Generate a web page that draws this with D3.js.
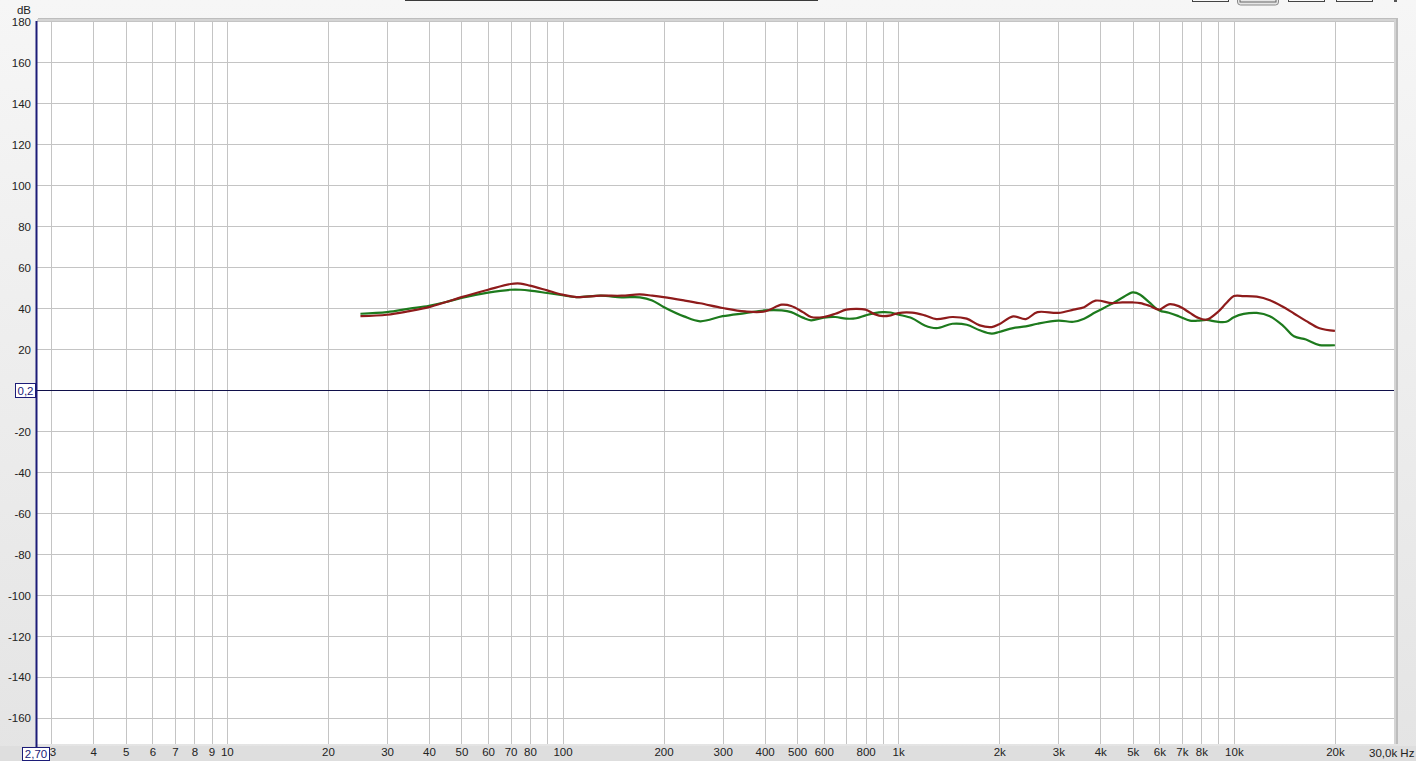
<!DOCTYPE html>
<html>
<head>
<meta charset="utf-8">
<script src="https://cdn.jsdelivr.net/npm/d3@7"></script>
<style>
  html, body { margin: 0; padding: 0; background: #efefef; }
  svg { display: block; }
  text { font-family: "Liberation Sans", Arial, sans-serif; font-size: 11.5px; fill: #222; }
</style>
</head>
<body>
<svg id="chart" width="1416" height="761"></svg>
<script>
// ---- data ----
const freqs = [25, 30, 35, 40, 45, 50, 60, 70, 75, 80, 90, 100, 110, 130, 150, 170, 185, 200, 230, 257, 300,
  350, 400, 450, 480, 520, 550, 600, 650, 700, 750, 800, 850, 900, 950, 1000, 1100, 1200, 1300, 1450, 1600,
  1750, 1900, 2000, 2200, 2400, 2600, 3000, 3330, 3580, 3870, 4330, 4650, 5000, 5260, 5600, 6000, 6400,
  6850, 7400, 7800, 8300, 8900, 9500, 10000, 10700, 11700, 12800, 14000, 15100, 16400, 18000, 20000];
const redValues = [36, 36.7, 38.5, 40.4, 42.9, 45.3, 48.9, 51.7, 51.9, 50.9, 48.6, 46.5, 45.3, 46, 46, 46.6, 46, 45.3, 43.7, 42.3, 40,
  38.3, 38.3, 41.6, 41, 38, 35.6, 35.6, 37.2, 39.2, 39.6, 39.2, 37, 36, 36.4, 37.5, 37.7, 36.4, 34.6, 35.6, 34.8,
  31.5, 30.7, 32.1, 35.9, 34.6, 38, 37.6, 39.2, 40.4, 43.6, 42.4, 42.7, 42.7, 42.4, 41.1, 39.2, 41.8,
  40.9, 37.6, 35.3, 34.3, 37.6, 42.4, 45.8, 45.8, 45.5, 43.8, 40.6, 37.3, 33.7, 30.1, 28.8];
const greenValues = [37.2, 38, 39.7, 41.1, 42.9, 44.9, 47.5, 48.9, 48.9, 48.5, 47.3, 46.2, 45.3, 46, 45.2, 45.2, 43.7, 40.5, 35.9, 33.5, 36,
  37.5, 38.8, 38.8, 38, 35.3, 34, 35.3, 35.6, 34.8, 35, 36.4, 37.5, 38, 37.8, 36.8, 35, 31.5, 30.2, 32.3, 31.8,
  29.1, 27.5, 28.3, 30.2, 31, 32.3, 33.8, 33.3, 34.8, 37.9, 42, 45, 47.6, 46.5, 42.7, 38.8, 37.7,
  36, 33.8, 33.8, 34.2, 33.3, 33.3, 35.5, 37.1, 37.6, 36, 31.4, 26.2, 24.6, 21.9, 21.9];

const gridFreqs = [3,4,5,6,7,8,9,10,20,30,40,50,60,70,80,90,100,200,300,400,500,600,700,800,900,
  1000,2000,3000,4000,5000,6000,7000,8000,9000,10000,20000];
const xTickValues = [3,4,5,6,7,8,9,10,20,30,40,50,60,70,80,100,200,300,400,500,600,800,
  1000,2000,3000,4000,5000,6000,7000,8000,10000,20000];
const xTickLabels = ["3","4","5","6","7","8","9","10","20","30","40","50","60","70","80","100","200","300","400","500","600","800",
  "1k","2k","3k","4k","5k","6k","7k","8k","10k","20k"];
const yTickValues = [180,160,140,120,100,80,60,40,20,-20,-40,-60,-80,-100,-120,-140,-160];
const xMinLabel = "2,70";
const xMaxLabel = "30,0k Hz";
const refLevel = 0.2;
const refLabel = "0,2";
const yUnit = "dB";

// ---- layout ----
const svg = d3.select("#chart");
const L = 36, R = 1394, T = 21, B = 744;
const x = d3.scaleLog().domain([2.7, 30000]).range([L, R]);
const y = d3.scaleLinear().domain([-172.7, 180]).range([B, T]);

// background gradient
const defs = svg.append("defs");
const bg = defs.append("linearGradient").attr("id", "bg").attr("x1", 0).attr("y1", 0).attr("x2", 0).attr("y2", 1);
bg.append("stop").attr("offset", "0%").attr("stop-color", "#f6f6f6");
bg.append("stop").attr("offset", "100%").attr("stop-color", "#e4e4e4");
svg.append("rect").attr("width", 1416).attr("height", 761).attr("fill", "url(#bg)");
svg.append("rect").attr("x", 0).attr("y", 746).attr("width", 1416).attr("height", 15).attr("fill", "#dedede");

// top UI remnants
svg.append("rect").attr("x", 405).attr("y", -1).attr("width", 413).attr("height", 2).attr("fill", "#3a3a3a");
[[1192, 36], [1288, 36], [1336, 36]].forEach(([bx, bw]) => {
  svg.append("rect").attr("x", bx + 0.5).attr("y", -6).attr("width", bw).attr("height", 7.5)
    .attr("fill", "#f8f8f8").attr("stroke", "#444").attr("stroke-width", 1);
});
svg.append("rect").attr("x", 1237.5).attr("y", -8).attr("width", 41).attr("height", 13).attr("rx", 3)
  .attr("fill", "#e6e6e6").attr("stroke", "#8a8a8a");
svg.append("rect").attr("x", 1240).attr("y", -4).attr("width", 36).attr("height", 6).attr("fill", "none").attr("stroke", "#666");
svg.append("rect").attr("x", 1394).attr("y", 0).attr("width", 3).attr("height", 2).attr("fill", "#555");

// panel shadow
svg.append("rect").attr("x", L + 2).attr("y", T - 3).attr("width", R - L + 2).attr("height", B - T + 3).attr("fill", "#bdbdbd");
svg.append("rect").attr("x", L + 1).attr("y", T - 2).attr("width", R - L + 1).attr("height", B - T + 2).attr("fill", "#d4d4d4");
// plot panel
svg.append("rect").attr("x", L).attr("y", T).attr("width", R - L).attr("height", B - T).attr("fill", "#ffffff");

// grid
const grid = svg.append("g");
grid.selectAll("line.v").data(gridFreqs).join("line")
  .attr("x1", d => Math.round(x(d)) + 0.5).attr("x2", d => Math.round(x(d)) + 0.5)
  .attr("y1", T).attr("y2", B).attr("stroke", "#c4c4c4").attr("stroke-width", 1);
grid.selectAll("line.h").data(yTickValues).join("line")
  .attr("x1", L).attr("x2", R)
  .attr("y1", d => Math.round(y(d)) + 0.5).attr("y2", d => Math.round(y(d)) + 0.5)
  .attr("stroke", "#c4c4c4").attr("stroke-width", 1);

// reference line
svg.append("line").attr("x1", L).attr("x2", R)
  .attr("y1", Math.round(y(refLevel)) + 0.5).attr("y2", Math.round(y(refLevel)) + 0.5)
  .attr("stroke", "#10104a").attr("stroke-width", 1);

// left axis line
svg.append("line").attr("x1", L + 0.5).attr("x2", L + 0.5).attr("y1", T).attr("y2", 747)
  .attr("stroke", "#1c1c78").attr("stroke-width", 2);

// y axis labels
const yAxis = d3.axisLeft(y).tickValues(yTickValues).tickSize(0).tickPadding(0).tickFormat(d => d);
const yg = svg.append("g").attr("transform", `translate(${L - 5},0)`).call(yAxis);
yg.select(".domain").remove();
yg.selectAll("text").attr("dy", "0.35em").style("font-size", "11.5px").attr("fill", "#222");
svg.append("text").attr("x", L - 5).attr("y", 14).attr("text-anchor", "end").text(yUnit);

// x axis labels
const xAxis = d3.axisBottom(x).tickValues(xTickValues).tickSize(0).tickPadding(0)
  .tickFormat((d, i) => xTickLabels[i]);
const xg = svg.append("g").attr("transform", `translate(0,${B + 3})`).call(xAxis);
xg.select(".domain").remove();
xg.selectAll("text").attr("dy", "0.8em").style("font-size", "11.5px").attr("fill", "#222");
// first tick "3" starts right next to box
xg.selectAll("text").filter((d) => d === 3).attr("text-anchor", "start").attr("dx", "-2");
svg.append("text").attr("x", 1369).attr("y", 757).text(xMaxLabel);

// boxed labels
function boxLabel(bx, by, bw, bh, txt) {
  svg.append("rect").attr("x", bx + 0.5).attr("y", by + 0.5).attr("width", bw).attr("height", bh)
    .attr("fill", "#ffffff").attr("stroke", "#1c1c78").attr("stroke-width", 1);
  svg.append("text").attr("x", bx + bw / 2 + 0.5).attr("y", by + bh / 2 + 0.5).attr("dy", "0.35em")
    .attr("text-anchor", "middle").attr("fill", "#1c1c78").style("fill", "#1c1c78").text(txt);
}
boxLabel(15, Math.round(y(refLevel)) - 7, 20, 14, refLabel);
boxLabel(22, 747, 27, 13, xMinLabel);

// curves
const line = d3.line().x(d => x(d[0])).y(d => y(d[1])).curve(d3.curveCatmullRom.alpha(0.5));
const series = [
  { values: greenValues, color: "#1d7a1d" },
  { values: redValues, color: "#8e1b1b" }
];
series.forEach(s => {
  const pts = freqs.map((f, i) => [f, s.values[i]]);
  svg.append("path").datum(pts).attr("d", line).attr("fill", "none")
    .attr("stroke", s.color).attr("stroke-width", 2.2).attr("stroke-linejoin", "round");
});
</script>
</body>
</html>
